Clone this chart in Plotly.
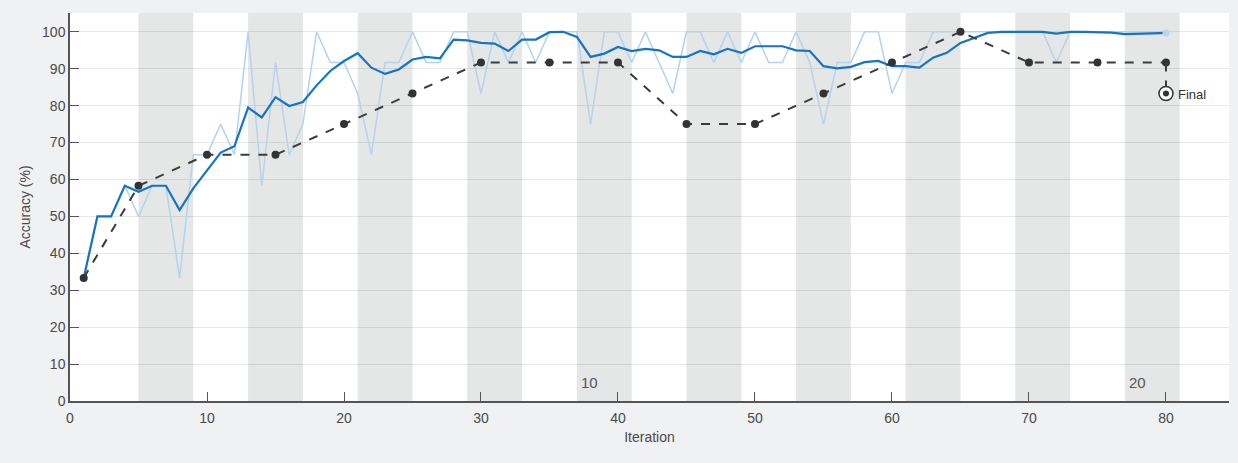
import plotly.graph_objects as go

# ---------------- data ----------------
iterations = list(range(1, 81))

train_raw = [
    33.3, 50, 50, 58.3, 50, 58.3, 58.3, 33.3, 66.7, 66.7,
    75, 66.7, 100, 58.3, 91.7, 66.7, 75, 100, 91.7, 91.7,
    83.3, 66.7, 91.7, 91.7, 100, 91.7, 91.7, 100, 100, 83.3,
    100, 91.7, 100, 91.7, 100, 100, 100, 75, 100, 100,
    91.7, 100, 91.7, 83.3, 100, 100, 91.7, 100, 91.7, 100,
    91.7, 91.7, 100, 91.7, 75, 91.7, 91.7, 100, 100, 83.3,
    91.7, 91.7, 100, 100, 100, 100, 100, 100, 100, 100,
    100, 91.7, 100, 100, 100, 100, 100, 100, 100, 100,
]

train_smooth = [
    33.3, 50, 50, 58.3, 56.7, 58.3, 58.3, 51.7, 57.6, 62.3,
    67.3, 69.0, 79.5, 76.8, 82.3, 79.9, 81.0, 85.5, 89.4, 92.1,
    94.2, 90.3, 88.6, 89.8, 92.5, 93.2, 92.8, 97.9, 97.7, 97.0,
    96.8, 94.8, 97.9, 97.9, 99.9, 100, 98.6, 93.2, 94.1, 95.9,
    94.8, 95.4, 95.0, 93.2, 93.2, 94.8, 93.9, 95.4, 94.3, 96.1,
    96.1, 96.1, 95.0, 94.8, 90.7, 90.1, 90.5, 91.8, 92.1, 90.7,
    90.7, 90.3, 93.0, 94.3, 97.0, 98.4, 99.7, 100, 100, 100,
    100, 99.5, 100, 100, 100, 99.8, 99.4, 99.4, 99.6, 99.7,
]

val_iter = [1, 5, 10, 15, 20, 25, 30, 35, 40, 45, 50, 55, 60, 65, 70, 75, 80]
val_acc = [33.3, 58.3, 66.7, 66.7, 75, 83.3, 91.7, 91.7, 91.7, 75, 75, 83.3,
           91.7, 100, 91.7, 91.7, 91.7]

final_iter = 80
final_acc = 83.3
final_label = "Final"

# shaded (even) epochs: start iteration of each shaded epoch, 4 iterations each
shaded_epoch_starts = [5, 13, 21, 29, 37, 45, 53, 61, 69, 77]
iters_per_epoch = 4
epoch_labels = {"10": 37, "20": 77}

x_ticks = [0, 10, 20, 30, 40, 50, 60, 70, 80]
y_ticks = [0, 10, 20, 30, 40, 50, 60, 70, 80, 90, 100]

# ---------------- figure ----------------
FONT = "Liberation Sans, Arial, Helvetica, sans-serif"
fig = go.Figure()

shapes = []
for s in shaded_epoch_starts:
    shapes.append(dict(type="rect", xref="x", yref="paper", x0=s, x1=s + iters_per_epoch,
                       y0=0, y1=1, fillcolor="#e5e6e6", line_width=0, layer="below"))

fig.add_trace(go.Scatter(x=iterations, y=train_raw, mode="lines",
                         line=dict(color="#b3d3ee", width=1.5), hoverinfo="skip",
                         showlegend=False))
fig.add_trace(go.Scatter(x=iterations, y=train_smooth, mode="lines",
                         line=dict(color="#1574c4", width=2.2), showlegend=False))
fig.add_trace(go.Scatter(x=[iterations[-1]], y=[train_smooth[-1]], mode="markers",
                         marker=dict(color="#b8d6f0", size=7), showlegend=False))
fig.add_trace(go.Scatter(x=val_iter, y=val_acc, mode="lines+markers",
                         line=dict(color="#3c3c3c", width=2, dash="dash"),
                         marker=dict(color="#333333", size=8), showlegend=False))
# connector to final
fig.add_trace(go.Scatter(x=[val_iter[-1], final_iter], y=[val_acc[-1], final_acc],
                         mode="lines", line=dict(color="#3c3c3c", width=2, dash="dash"),
                         showlegend=False))
fig.add_trace(go.Scatter(x=[final_iter], y=[final_acc], mode="markers",
                         marker=dict(symbol="circle", color="white", size=14,
                                     line=dict(color="#333333", width=1.5)),
                         showlegend=False))
fig.add_trace(go.Scatter(x=[final_iter], y=[final_acc], mode="markers",
                         marker=dict(symbol="circle", color="#333333", size=6),
                         showlegend=False))

annotations = [dict(x=final_iter, y=final_acc, xref="x", yref="y", text=final_label,
                    showarrow=False, xanchor="left", yanchor="middle", xshift=10, yshift=-1,
                    font=dict(family=FONT, size=13, color="#333333"))]
for lab, it in epoch_labels.items():
    annotations.append(dict(x=it, y=5, xref="x", yref="y", text=lab, showarrow=False,
                            xanchor="left", yanchor="middle", xshift=2,
                            font=dict(family=FONT, size=15, color="#555555")))

fig.update_layout(
    width=1238, height=463,
    margin=dict(l=70, r=9, t=13, b=62),
    paper_bgcolor="#eff1f3", plot_bgcolor="white",
    shapes=shapes, annotations=annotations,
    font=dict(family=FONT, size=14, color="#4a4a4a"),
    showlegend=False,
)
fig.update_xaxes(range=[0, 84.6], tickvals=x_ticks, showgrid=False, zeroline=False,
                 showline=True, linecolor="#555555", linewidth=1.5,
                 ticks="inside", ticklen=9, tickcolor="#555555", tickwidth=1,
                 ticklabelstandoff=3,
                 tickfont=dict(size=14, color="#4a4a4a"),
                 title=dict(text="Iteration", font=dict(size=14, color="#4a4a4a"), standoff=8))
fig.update_yaxes(range=[0, 105.1], tickvals=y_ticks, showgrid=True,
                 gridcolor="rgba(0,0,0,0.09)",
                 zeroline=False, showline=True, linecolor="#555555", linewidth=1.5,
                 ticks="inside", ticklen=9, tickcolor="#555555", tickwidth=1,
                 tickfont=dict(size=14, color="#4a4a4a"),
                 title=dict(text="Accuracy (%)", font=dict(size=14, color="#4a4a4a"), standoff=8))

fig.write_html("out.html", config={"displayModeBar": False},
               post_script="document.body.style.margin='0';document.body.style.overflow='hidden';")
